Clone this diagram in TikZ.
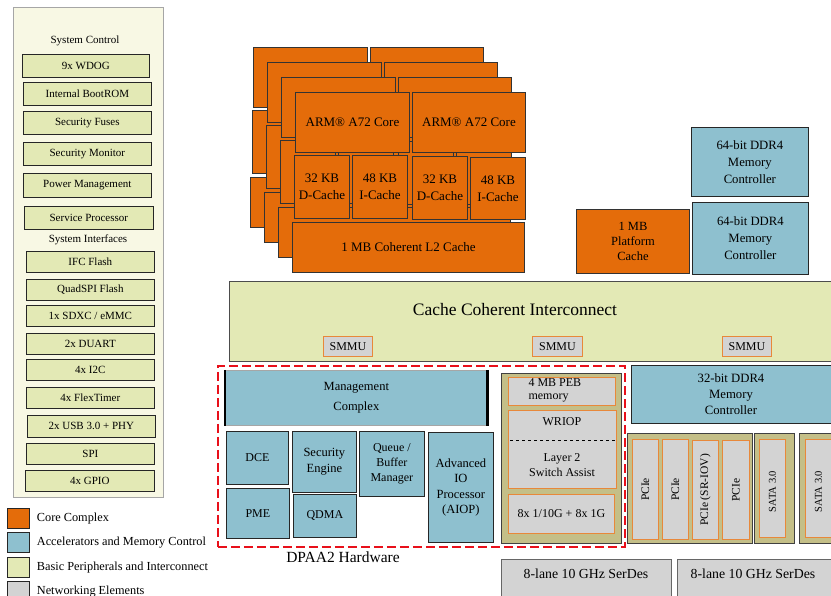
\documentclass[tikz,border=0pt]{standalone}
\usepackage{fontspec}
\setmainfont{Liberation Serif}
\usetikzlibrary{positioning}
\definecolor{coreor}{HTML}{E46C0A}
\definecolor{accbl}{HTML}{8EC0CF}
\definecolor{basyl}{HTML}{E3E9B5}
\definecolor{netgr}{HTML}{D3D3D3}
\definecolor{netor}{HTML}{E8883A}
\definecolor{olv}{HTML}{C4BF88}
\definecolor{panel}{HTML}{F8F8E4}
\definecolor{dpaa}{HTML}{E8101A}
\tikzset{
  fs/.style 2 args={font=\fontsize{#1}{#2}\selectfont},
  sz/.style 2 args={minimum width=#1pt, minimum height=#2pt},
  blk/.style={draw=black!85, line width=0.7pt, align=center, inner sep=1pt, anchor=north west, fs={12}{15}},
  corebox/.style={blk, fill=coreor, draw=black!80, line width=0.9pt, fs={13}{17}},
  accbox/.style={blk, fill=accbl},
  basbox/.style={blk, fill=basyl, fs={11}{13}},
  netbox/.style={blk, fill=netgr, draw=netor, line width=0.9pt},
  olvbox/.style={blk, fill=olv, draw=black!75, line width=0.9pt},
  vtxt/.style={rotate=90, inner sep=0pt, fs={11.5}{13}},
  key/.style={draw=black!85, line width=0.7pt, minimum width=22pt, minimum height=20pt, anchor=north west},
  keytxt/.style={anchor=west, inner sep=0pt, fs={12.3}{14}},
}
\begin{document}
\begin{tikzpicture}[x=1pt, y=-1pt]
\useasboundingbox (0,0) rectangle (831,596);

% left column: system control and interfaces
\node[draw=gray!70, fill=panel, line width=0.9pt, anchor=north west, sz={150}{490}] (panel) at (13,7) {};
\node[fs={11}{13}] (sysctl) at (85,41) {System Control};
\node[basbox, sz={127}{23}] (wdog) at (22,54) {9x WDOG};
\node[basbox, sz={128}{23}] (brom) at (23,82) {Internal BootROM};
\node[basbox, sz={128}{23}] (fuse) at (23,111) {Security Fuses};
\node[basbox, sz={128}{23}] (smon) at (23,142) {Security Monitor};
\node[basbox, sz={128}{24}] (pwr) at (23,173) {Power Management};
\node[basbox, sz={129}{23}] (svc) at (24,206) {Service Processor};
\node[fs={11}{13}] (sysif) at (88,240) {System Interfaces};
\node[basbox, sz={128}{21}] (ifc) at (26,251) {IFC Flash};
\node[basbox, sz={128}{21}] (qspi) at (26,279) {QuadSPI Flash};
\node[basbox, sz={128}{21}] (sdxc) at (26,305) {1x SDXC / eMMC};
\node[basbox, sz={128}{21}] (duart) at (26,333) {2x DUART};
\node[basbox, sz={128}{21}] (iic) at (26,359) {4x I2C};
\node[basbox, sz={128}{21}] (flex) at (26,387) {4x FlexTimer};
\node[basbox, sz={128}{22}] (usb) at (27,415) {2x USB 3.0 + PHY};
\node[basbox, sz={128}{21}] (spi) at (26,443) {SPI};
\node[basbox, sz={129}{21}] (gpio) at (25,470) {4x GPIO};

% legend
\node[key, fill=coreor] (kcore) at (7,508) {};
\node[keytxt, right=7pt of kcore] (tcore) {Core Complex};
\node[key, fill=accbl] (kacc) at (7,532) {};
\node[keytxt, right=7pt of kacc] (tacc) {Accelerators and Memory Control};
\node[key, fill=basyl] (kbas) at (7,557) {};
\node[keytxt, right=7pt of kbas] (tbas) {Basic Peripherals and Interconnect};
\node[key, fill=netgr] (knet) at (7,581) {};
\node[keytxt, right=7pt of knet] (tnet) {Networking Elements};

% core complex: three clusters behind, one in front
\foreach \k in {3,2,1} {
  \begin{scope}[shift={(-14*\k,-15*\k)}]
    \node[corebox, sz={114}{60}] (armA\k) at (295,92) {};
    \node[corebox, sz={113}{60}] (armB\k) at (412,92) {};
    \node[corebox, sz={55}{63}] (dcA\k) at (294,155) {};
    \node[corebox, sz={55}{63}] (icA\k) at (352,155) {};
    \node[corebox, sz={55}{63}] (dcB\k) at (412,156) {};
    \node[corebox, sz={55}{62}] (icB\k) at (470,157) {};
    \node[corebox, sz={232}{50}] (ltwo\k) at (292,222) {};
  \end{scope}
}
\node[corebox, sz={114}{60}] (armA) at (295,92) {ARM® A72 Core};
\node[corebox, sz={113}{60}] (armB) at (412,92) {ARM® A72 Core};
\node[corebox, sz={55}{63}] (dcA) at (294,155) {32 KB\\D-Cache};
\node[corebox, sz={55}{63}] (icA) at (352,155) {48 KB\\I-Cache};
\node[corebox, sz={55}{63}] (dcB) at (412,156) {32 KB\\D-Cache};
\node[corebox, sz={55}{62}] (icB) at (470,157) {48 KB\\I-Cache};
\node[corebox, sz={232}{50}] (ltwo) at (292,222) {1 MB Coherent L2 Cache};

% platform cache and memory
\node[corebox, fs={12.5}{15}, sz={113}{64}] (pcache) at (576,209) {1 MB\\Platform\\Cache};
\node[accbox, fs={12.7}{17}, sz={117}{69}] (ddrA) at (691,127) {64-bit DDR4\\Memory\\Controller};
\node[accbox, fs={12.7}{17}, sz={116}{72}] (ddrB) at (692,202) {64-bit DDR4\\Memory\\Controller};

% interconnect
\node[blk, fill=basyl, draw=black!70, sz={610}{80}] (cci) at (229,281) {};
\node[fs={17.5}{20}] (ccit) at (515,310) {Cache Coherent Interconnect};
\node[netbox, sz={49}{20}] (smmuA) at (323,336) {SMMU};
\node[netbox, sz={50}{20}] (smmuB) at (532,336) {SMMU};
\node[netbox, sz={49}{20}] (smmuC) at (722,336) {SMMU};

% DPAA2 hardware
\node[draw=dpaa, line width=1.6pt, dash pattern=on 9pt off 4pt, anchor=north west, sz={407}{181}] (dpaa) at (217,365) {};
\node[fs={15.5}{18}] (dpaat) at (343,557) {DPAA2 Hardware};
\node[accbox, draw=gray!70, fs={12.5}{20}, sz={264}{55}] (mgmt) at (224,370) {Management\\Complex};
\draw[line width=2.6pt] ([xshift=1pt]mgmt.north west) -- ([xshift=1pt]mgmt.south west);
\draw[line width=2.6pt] ([xshift=-1pt]mgmt.north east) -- ([xshift=-1pt]mgmt.south east);
\node[accbox, sz={62}{53}] (dce) at (226,431) {DCE};
\node[accbox, sz={63}{50}] (pme) at (226,488) {PME};
\node[accbox, fs={12.5}{16.5}, sz={64}{61}] (sec) at (292,431) {Security\\Engine};
\node[accbox, sz={63}{43}] (qdma) at (293,494) {QDMA};
\node[accbox, sz={65}{65}] (qbman) at (359,431) {Queue /\\Buffer\\Manager};
\node[accbox, fs={12.5}{15.5}, sz={65}{110}] (aiop) at (428,432) {Advanced\\IO\\Processor\\(AIOP)};

% networking
\node[olvbox, sz={120}{170}] (netw) at (501,373) {};
\node[netbox, sz={107}{28}] (peb) at (508,377) {};
\node[fs={12}{13}, align=left, anchor=west] (pebt) at (525,390) {4 MB PEB\\memory};
\node[netbox, sz={108}{78}] (wriop) at (508,410) {};
\node[fs={12}{15}] (wriopt) at (562,422) {WRIOP};
\draw[dashed, line width=1pt] ([xshift=2pt,yshift=-30pt]wriop.north west) -- ([xshift=-2pt,yshift=-30pt]wriop.north east);
\node[fs={12}{15}, align=center] (ltwot) at (562,465) {Layer 2\\Switch Assist};
\node[netbox, sz={106}{39}] (eth) at (508,494) {8x 1/10G + 8x 1G};

\node[accbox, fs={12.7}{16}, sz={210}{58}] (ddrC) at (631,365) {};
\node[fs={12.7}{16}, align=center] (ddrCt) at (731,394) {32-bit DDR4\\Memory\\Controller};

\node[olvbox, sz={125}{110}] (pcigrp) at (627,433) {};
\node[netbox, sz={26}{100}] (pciA) at (632,439) {};
\node[netbox, sz={26}{100}] (pciB) at (662,439) {};
\node[netbox, sz={26}{99}] (pciC) at (692,440) {};
\node[netbox, sz={27}{99}] (pciD) at (722,440) {};
\node[vtxt] (pciAt) at (pciA.center) {PCIe};
\node[vtxt] (pciBt) at (pciB.center) {PCIe};
\node[vtxt] (pciCt) at (pciC.center) {PCIe (SR-IOV)};
\node[vtxt] (pciDt) at (pciD.center) {PCIe};
\node[olvbox, sz={40}{110}] (satagA) at (754,433) {};
\node[netbox, sz={26}{98}] (sataA) at (759,439) {};
\node[vtxt, fs={10.5}{12}] (sataAt) at ([yshift=-3pt]sataA.center) {SATA 3.0};
\node[olvbox, sz={40}{110}] (satagB) at (799,433) {};
\node[netbox, sz={26}{98}] (sataB) at (805,439) {};
\node[vtxt, fs={10.5}{12}] (sataBt) at ([yshift=-3pt]sataB.center) {SATA 3.0};

% serdes
\node[blk, fill=netgr, draw=black!60, sz={170}{45}] (serA) at (501,559) {};
\node[fs={13.8}{16}] (serAt) at (586,574) {8-lane 10 GHz SerDes};
\node[blk, fill=netgr, draw=black!60, sz={160}{45}] (serB) at (677,559) {};
\node[fs={13.8}{16}] (serBt) at (753,574) {8-lane 10 GHz SerDes};
\end{tikzpicture}
\end{document}
